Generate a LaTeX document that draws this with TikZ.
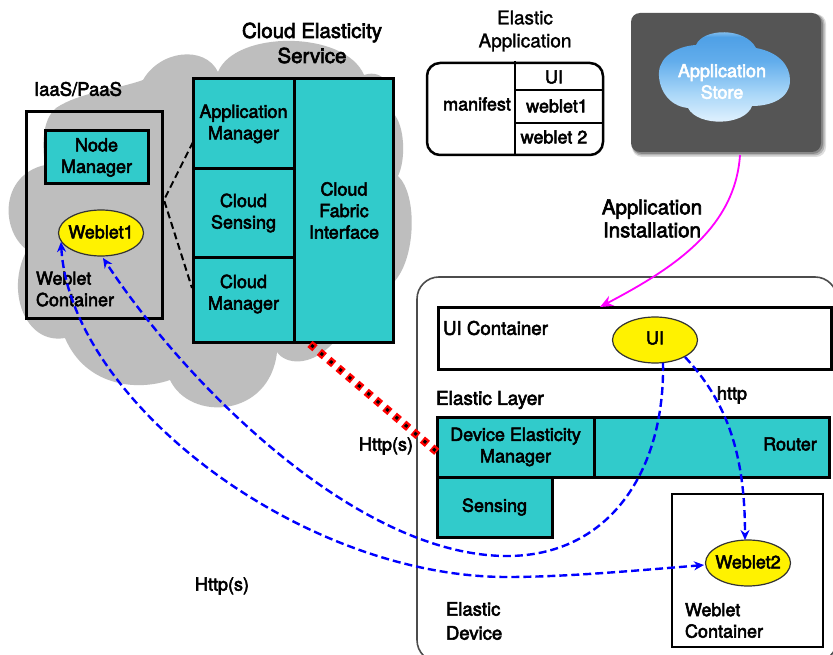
\documentclass[tikz,border=0pt]{standalone}
\usepackage{fontspec}
\setmainfont[FakeBold=3]{TeX Gyre Heros}
\newfontfamily\plainhv[FakeBold=1.5]{TeX Gyre Heros}
\usetikzlibrary{arrows.meta,shapes.geometric}
\definecolor{cloudgray}{HTML}{BEBEBE}
\definecolor{tealcell}{HTML}{31CBCB}
\definecolor{storegray}{HTML}{555555}
\definecolor{installpink}{HTML}{FF00FF}
\definecolor{skya}{HTML}{EAF6FF}
\definecolor{skyb}{HTML}{A8D6F8}
\definecolor{skyc}{HTML}{62ADEC}
\definecolor{skyd}{HTML}{4FA0E6}
\definecolor{skye}{HTML}{B8DCF4}
\pgfdeclareverticalshading{storesky}{100bp}{color(0bp)=(skya); color(25bp)=(skya); color(42bp)=(skyb); color(58bp)=(skyc); color(70bp)=(skyd); color(75bp)=(skye); color(100bp)=(skye)}
\tikzset{
  txt/.style={inner sep=0pt,outer sep=0pt,align=center,font=\fontsize{18}{21.5}\selectfont},
  txtl/.style={txt,align=left,anchor=west},
  cell/.style={draw=black,fill=tealcell,line width=3pt,inner sep=0pt,outer sep=0pt,align=center,font=\fontsize{18}{21.5}\selectfont},
  frame/.style={draw=black,line width=3pt,inner sep=0pt,outer sep=0pt},
  oval/.style={ellipse,draw=black!80,fill=yellow,line width=1.2pt,inner sep=0pt,outer sep=0pt,minimum width=85pt,minimum height=46pt},
  bluedash/.style={draw=blue,line width=2.4pt,dash pattern=on 8pt off 4pt},
  tabline/.style={draw=black,line width=2.5pt},
}
\begin{document}
\begin{tikzpicture}[x=1pt,y=-1pt]
\useasboundingbox (0,0) rectangle (833,655);
\clip (0,0) rectangle (833,655);
\fill[white] (0,0) rectangle (833,655);
% large grey cloud
\fill[cloudgray] (143,80) .. controls (160,50) and (205,45) .. (218,72)
  .. controls (235,30) and (345,30) .. (364,75)
  .. controls (385,68) and (396,90) .. (393,113)
  .. controls (405,125) and (406,160) .. (398,176)
  .. controls (418,195) and (416,260) .. (393,283)
  .. controls (395,310) and (365,345) .. (333,343)
  .. controls (310,368) and (285,364) .. (277,352)
  .. controls (270,418) and (190,422) .. (170,380)
  .. controls (135,392) and (85,385) .. (65,338)
  .. controls (25,345) and (5,290) .. (27,250)
  .. controls (0,230) and (0,175) .. (45,165)
  .. controls (40,130) and (48,115) .. (56,108)
  .. controls (80,92) and (115,90) .. (143,80) -- cycle;
% cloud service
\node[cell,minimum width=101pt,minimum height=90pt] (appm) at (243.5,124) {Application\\Manager};
\node[cell,minimum width=101pt,minimum height=89pt] (csens) at (243.5,213) {Cloud\\Sensing};
\node[cell,minimum width=101pt,minimum height=84pt] (cman) at (243.5,300) {};
\node[txt] (cmant) at (243.5,294) {Cloud\\Manager};
\node[cell,minimum width=99pt,minimum height=263pt] (cfi) at (344,210.5) {Cloud\\Fabric\\Interface};
% IaaS box
\node[frame,minimum width=136pt,minimum height=206pt] (iaas) at (94,215) {};
\node[cell,minimum width=103pt,minimum height=53pt] (nodem) at (96.5,157.5) {Node\\Manager};
\node[oval] (w1) at (101,233) {};
\node[txt] (w1t) at (101,232) {Weblet1};
\node[txtl] (wc1) at (36,289) {Weblet\\Container};
% titles
\node[txt,font=\fontsize{20.5}{25}\selectfont] (ces) at (312,43) {Cloud Elasticity\\Service};
\node[txt,font=\fontsize{18.5}{22}\selectfont] (iaast) at (78,89) {IaaS/PaaS};
\node[txt,font=\plainhv\fontsize{19}{23}\selectfont] (eat) at (525,31) {Elastic\\Application};
% elastic application table
\node[draw=black,line width=2.5pt,rounded corners=13pt,minimum width=176pt,minimum height=92pt,inner sep=0pt,outer sep=0pt] (tab) at (515,109) {};
\coordinate (tabtop) at (515,61);
\coordinate (tabbot) at (515,155);
\coordinate (rowaL) at (515,90);
\coordinate (rowaR) at (603,90);
\coordinate (rowbL) at (515,123);
\coordinate (rowbR) at (603,123);
\draw[tabline] (tabtop) -- (tabbot);
\draw[tabline] (rowaL) -- (rowaR);
\draw[tabline] (rowbL) -- (rowbR);
\node[txt] (mani) at (477,104) {manifest};
\node[txt] (tui) at (554,77) {UI};
\node[txt] (tw1) at (557,106) {weblet1};
\node[txt] (tw2) at (554,137) {weblet 2};
% application store
\foreach \o/\e in {0.2/5,0.3/3.5,0.45/2}{
  \fill[storegray,opacity=\o,rounded corners=10pt] (632,14) rectangle (821+\e,152+\e);
}
\node[fill=storegray,rounded corners=9pt,minimum width=190pt,minimum height=139pt,inner sep=0pt,outer sep=0pt] (store) at (726,82.5) {};
\path[shading=storesky] (696,45) .. controls (703,28) and (745,27) .. (756,48)
  .. controls (778,52) and (790,65) .. (790,80)
  .. controls (790,98) and (772,106) .. (752,106)
  .. controls (745,126) and (698,127) .. (688,108)
  .. controls (668,106) and (658,88) .. (659,72)
  .. controls (660,56) and (678,46) .. (696,45) -- cycle;
\node[txt,text=white] (ast) at (722,81.5) {Application\\Store};
\node[txt,font=\fontsize{20.5}{23}\selectfont] (ains) at (652,218.5) {Application\\Installation};
% elastic device
\node[draw=black!70,line width=1.6pt,rounded corners=22pt,minimum width=420pt,minimum height=385pt,inner sep=0pt,outer sep=0pt] (edev) at (627,469.5) {};
\node[frame,minimum width=393pt,minimum height=62pt] (uic) at (634.5,338) {};
\node[txtl,font=\fontsize{18.7}{22}\selectfont] (uict) at (443,328) {UI Container};
\node[oval] (ui) at (655,340) {};
\node[txt] (uit) at (655,338) {UI};
\node[txtl,font=\fontsize{19}{22}\selectfont] (elt) at (436,400) {Elastic Layer};
\node[cell,minimum width=157pt,minimum height=60pt] (dem) at (515.5,447) {Device Elasticity\\Manager};
\node[cell,minimum width=235pt,minimum height=60pt] (rout) at (711.5,447) {};
\node[txt] (routt) at (790,444) {Router};
\node[cell,minimum width=115pt,minimum height=60pt] (sens) at (494.5,507) {Sensing};
\node[frame,line width=2.6pt,minimum width=151pt,minimum height=153pt] (wcb) at (747.5,570.5) {};
\node[oval] (w2) at (748,563) {};
\node[txt] (w2t) at (748,562) {Weblet2};
\node[txtl] (wc2) at (685,620.5) {Weblet\\Container};
\node[txtl,font=\fontsize{18.5}{24}\selectfont] (edt) at (446,621) {Elastic\\Device};
\node[txt] (http) at (732,395) {http};
\node[txt] (h1) at (386,446) {Http(s)};
\node[txt] (h2) at (222,586) {Http(s)};
% dashed links
\coordinate (fork) at (164,200);
\coordinate (da) at (193,142);
\coordinate (db) at (192,288);
\draw[black,line width=2pt,dash pattern=on 7pt off 4pt] (da) -- (fork) -- (db);
% red dotted link
\coordinate (ra) at (310,344);
\coordinate (rb) at (437,452);
\draw[red,line width=8pt,dash pattern=on 6.5pt off 5.8pt] (ra) -- (rb);
\draw[black,line width=3pt,dash pattern=on 3pt off 9.3pt,dash phase=-1.75pt] (ra) -- (rb);
% blue links
\coordinate (ua) at (663,363);
\coordinate (ub) at (685,357);
\coordinate (wa) at (103,258);
\coordinate (wb) at (61,242);
\coordinate (wc) at (704,565);
\coordinate (wd) at (745,540);
\draw[bluedash,-{Stealth[length=10pt,width=9pt]}] (ua) .. controls (665,470) and (610,556) .. (507,556) .. controls (360,556) and (190,390) .. (wa);
\draw[bluedash,{Stealth[length=10pt,width=9pt]}-{Stealth[length=10pt,width=9pt]}] (wb) .. controls (70,400) and (300,577) .. (507,577) .. controls (560,577) and (620,572) .. (wc);
\draw[bluedash,-{Stealth[length=10pt,width=9pt]}] (ub) .. controls (725,400) and (745,450) .. (wd);
% magenta link
\coordinate (ma) at (740,155);
\coordinate (mb) at (600,307);
\draw[installpink,line width=1.8pt,-{Stealth[length=13pt,width=11pt]}] (ma) .. controls (735,230) and (670,270) .. (mb);
\end{tikzpicture}
\end{document}
